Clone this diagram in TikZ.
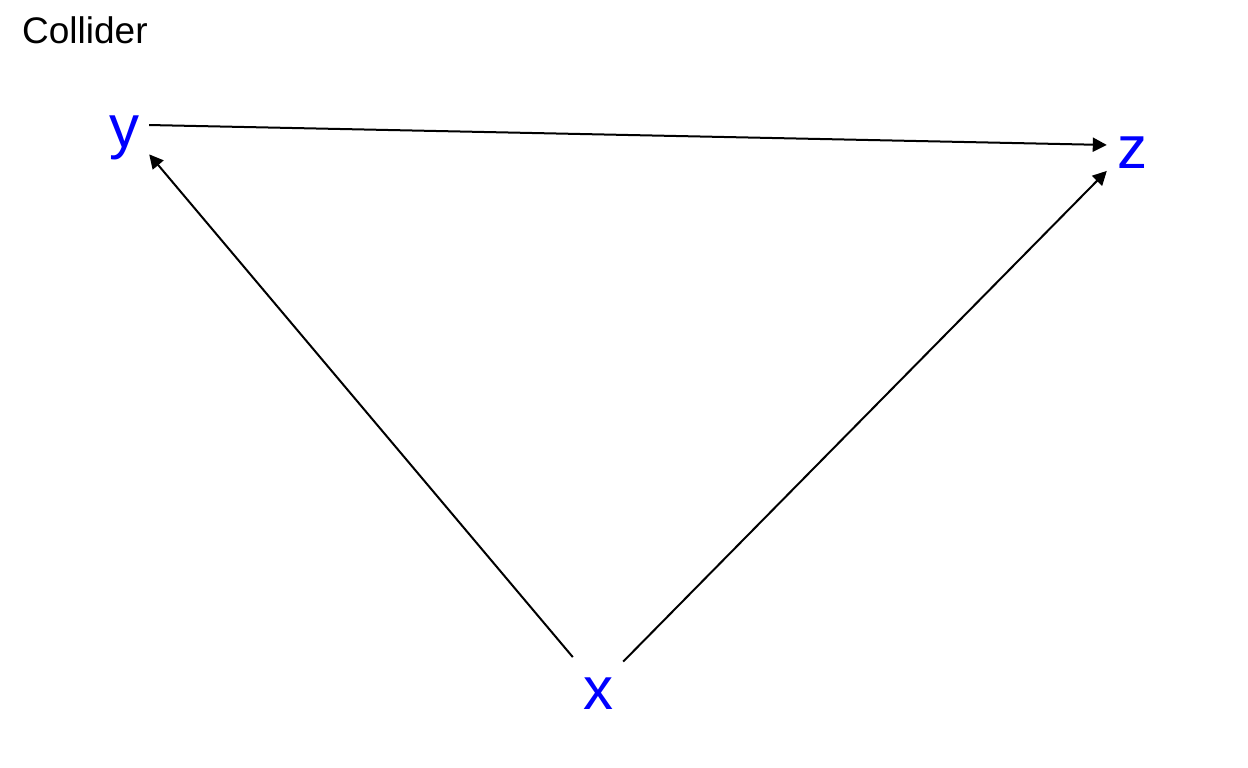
\documentclass[tikz,border=0pt]{standalone}
\usepackage{fontspec}
\setmainfont{Liberation Sans}
\usepackage{xcolor}
\usepackage{tikz}
\usetikzlibrary{arrows.meta}

\begin{document}
\begin{tikzpicture}[
  x=1pt, y=-1pt,
  var/.style={rectangle, inner sep=0pt, minimum width=50pt, minimum height=72pt, text=blue,
    font=\fontsize{60}{72}\selectfont, text height=45pt, text depth=0pt},
  title/.style={inner sep=0pt, anchor=base west, font=\fontsize{37}{44}\selectfont},
  arrow/.style={-{Triangle[length=14pt, width=14pt]}, line width=2pt}
]
  \useasboundingbox (0,0) rectangle (1248,768);
  \node[title] (lbl) at (22,44) {Collider};
  \node[var] (y) at (124,124.5) {y};
  \node[var] (z) at (1132,145.5) {z};
  \node[var] (x) at (598,687) {x};

  \draw[arrow] (y) -- (z);
  \draw[arrow] (x) -- (y);
  \draw[arrow] (x) -- (z);
\end{tikzpicture}
\end{document}
